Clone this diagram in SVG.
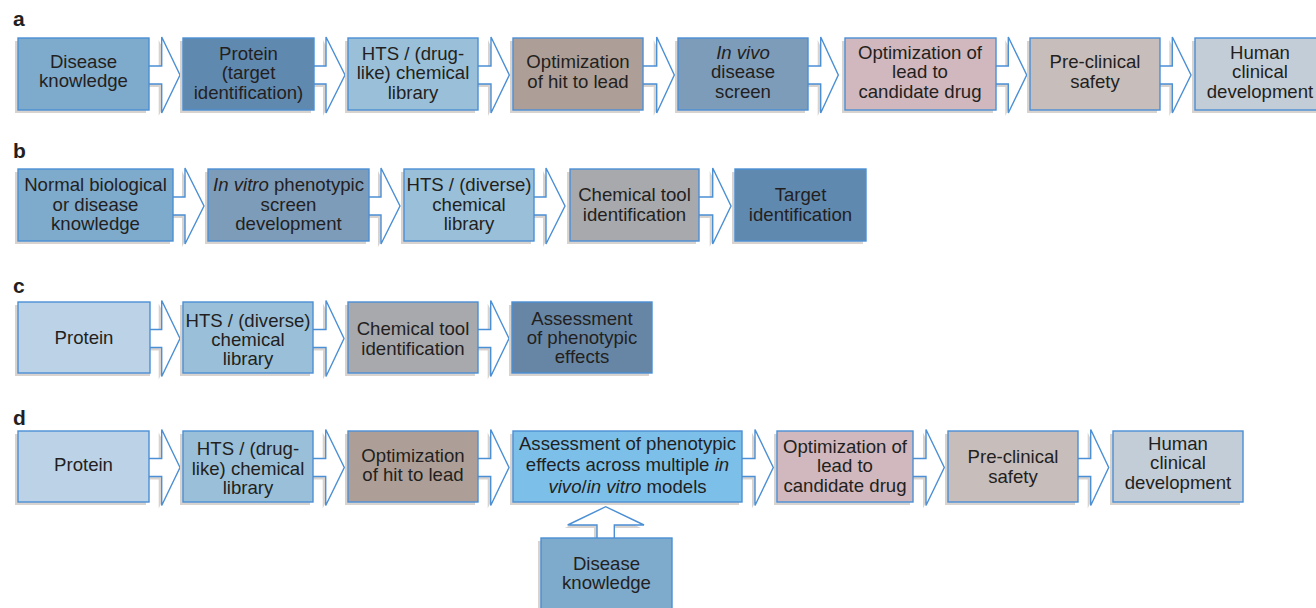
<svg xmlns="http://www.w3.org/2000/svg" width="1316" height="608" viewBox="0 0 1316 608">
<style>
.bx{stroke:#4b8fd5;stroke-width:1.4}
.sh{fill:#d9d3cf}
.ar{fill:#ffffff;stroke:#4b8fd5;stroke-width:1.4;stroke-linejoin:miter}
.as{fill:#d9d3cf}
text{font-family:"Liberation Sans",Arial,Helvetica,sans-serif;font-size:18.6px;fill:#231f20;text-anchor:middle}
text.lbl{font-weight:bold;font-size:21px;text-anchor:start}
.it{font-style:italic}
</style>
<rect width="1316" height="608" fill="#ffffff"/>
<g id="labels">
<text class="lbl" x="13" y="26">a</text>
<text class="lbl" x="13" y="158">b</text>
<text class="lbl" x="13" y="293">c</text>
<text class="lbl" x="13" y="425">d</text>
</g>
<g id="connectors">
<!-- row a, cy 75 -->
<g transform="translate(-3,3)" class="as">
<path d="M149,66 H161.7 V37 L180,75 L161.7,113 V84 H149 Z"/>
<path d="M314,66 H326 V37 L345,75 L326,113 V84 H314 Z"/>
<path d="M478,66 H491 V37 L509.3,75 L491,113 V84 H478 Z"/>
<path d="M643,66 H656.7 V37 L674.3,75 L656.7,113 V84 H643 Z"/>
<path d="M808,66 H820.7 V37 L838.3,75 L820.7,113 V84 H808 Z"/>
<path d="M996,66 H1008.3 V37 L1026.7,75 L1008.3,113 V84 H996 Z"/>
<path d="M1160,66 H1172.3 V37 L1191,75 L1172.3,113 V84 H1160 Z"/>
</g>
<path class="ar" d="M149,66 H161.7 V37 L180,75 L161.7,113 V84 H149"/>
<path class="ar" d="M314,66 H326 V37 L345,75 L326,113 V84 H314"/>
<path class="ar" d="M478,66 H491 V37 L509.3,75 L491,113 V84 H478"/>
<path class="ar" d="M643,66 H656.7 V37 L674.3,75 L656.7,113 V84 H643"/>
<path class="ar" d="M808,66 H820.7 V37 L838.3,75 L820.7,113 V84 H808"/>
<path class="ar" d="M996,66 H1008.3 V37 L1026.7,75 L1008.3,113 V84 H996"/>
<path class="ar" d="M1160,66 H1172.3 V37 L1191,75 L1172.3,113 V84 H1160"/>
<!-- row b, cy 206 -->
<g transform="translate(-3,3)" class="as">
<path d="M173,197 H185 V168 L204,206 L185,244 V215 H173 Z"/>
<path d="M369,197 H381 V168 L400,206 L381,244 V215 H369 Z"/>
<path d="M534,197 H546 V168 L565,206 L546,244 V215 H534 Z"/>
<path d="M699,197 H712.7 V168 L731,206 L712.7,244 V215 H699 Z"/>
</g>
<path class="ar" d="M173,197 H185 V168 L204,206 L185,244 V215 H173"/>
<path class="ar" d="M369,197 H381 V168 L400,206 L381,244 V215 H369"/>
<path class="ar" d="M534,197 H546 V168 L565,206 L546,244 V215 H534"/>
<path class="ar" d="M699,197 H712.7 V168 L731,206 L712.7,244 V215 H699"/>
<!-- row c, cy 338.5 -->
<g transform="translate(-3,3)" class="as">
<path d="M150,329.5 H161.7 V300.5 L180,338.5 L161.7,376.5 V347.5 H150 Z"/>
<path d="M313,329.5 H326 V300.5 L344,338.5 L326,376.5 V347.5 H313 Z"/>
<path d="M478,329.5 H490.7 V300.5 L509,338.5 L490.7,376.5 V347.5 H478 Z"/>
</g>
<path class="ar" d="M150,329.5 H161.7 V300.5 L180,338.5 L161.7,376.5 V347.5 H150"/>
<path class="ar" d="M313,329.5 H326 V300.5 L344,338.5 L326,376.5 V347.5 H313"/>
<path class="ar" d="M478,329.5 H490.7 V300.5 L509,338.5 L490.7,376.5 V347.5 H478"/>
<!-- row d, cy 467.5 -->
<g transform="translate(-3,3)" class="as">
<path d="M149,458.5 H161.7 V429.5 L180,467.5 L161.7,505.5 V476.5 H149 Z"/>
<path d="M313,458.5 H325.7 V429.5 L344.3,467.5 L325.7,505.5 V476.5 H313 Z"/>
<path d="M478,458.5 H490.7 V429.5 L509,467.5 L490.7,505.5 V476.5 H478 Z"/>
<path d="M742,458.5 H755 V429.5 L773.3,467.5 L755,505.5 V476.5 H742 Z"/>
<path d="M913,458.5 H926 V429.5 L944.3,467.5 L926,505.5 V476.5 H913 Z"/>
<path d="M1078,458.5 H1090.7 V429.5 L1108.7,467.5 L1090.7,505.5 V476.5 H1078 Z"/>
<path d="M597,538 V525 H567.7 L605.7,506.7 L644,525 H614.3 V538 Z"/>
</g>
<path class="ar" d="M149,458.5 H161.7 V429.5 L180,467.5 L161.7,505.5 V476.5 H149"/>
<path class="ar" d="M313,458.5 H325.7 V429.5 L344.3,467.5 L325.7,505.5 V476.5 H313"/>
<path class="ar" d="M478,458.5 H490.7 V429.5 L509,467.5 L490.7,505.5 V476.5 H478"/>
<path class="ar" d="M742,458.5 H755 V429.5 L773.3,467.5 L755,505.5 V476.5 H742"/>
<path class="ar" d="M913,458.5 H926 V429.5 L944.3,467.5 L926,505.5 V476.5 H913"/>
<path class="ar" d="M1078,458.5 H1090.7 V429.5 L1108.7,467.5 L1090.7,505.5 V476.5 H1078"/>
<path class="ar" d="M597,538 V525 H567.7 L605.7,506.7 L644,525 H614.3 V538"/>
</g>

<!-- Row a -->
<g id="a1"><rect class="sh" x="15" y="41" width="131" height="72"/><rect class="bx" x="18" y="38" width="131" height="72" fill="#7eaacc"/>
<text x="83.5" y="67.7">Disease</text><text x="83.5" y="87.3">knowledge</text></g>
<g id="a2"><rect class="sh" x="180" y="41" width="131" height="72"/><rect class="bx" x="183" y="38" width="131" height="72" fill="#6089b0"/>
<text x="248.5" y="59.5">Protein</text><text x="248.5" y="79">(target</text><text x="248.5" y="98.5">identification)</text></g>
<g id="a3"><rect class="sh" x="345" y="41" width="130" height="72"/><rect class="bx" x="348" y="38" width="130" height="72" fill="#9abfd8"/>
<text x="413" y="59.5">HTS / (drug-</text><text x="413" y="79">like) chemical</text><text x="413" y="98.5">library</text></g>
<g id="a4"><rect class="sh" x="510" y="41" width="130" height="72"/><rect class="bx" x="513" y="38" width="130" height="72" fill="#ad9f97"/>
<text x="578" y="68">Optimization</text><text x="578" y="87.5">of hit to lead</text></g>
<g id="a5"><rect class="sh" x="675" y="41" width="130" height="72"/><rect class="bx" x="678" y="38" width="130" height="72" fill="#7d9cba"/>
<text x="743" y="58.5" class="it">In vivo</text><text x="743" y="78">disease</text><text x="743" y="97.5">screen</text></g>
<g id="a6"><rect class="sh" x="842" y="41" width="151" height="72"/><rect class="bx" x="845" y="38" width="151" height="72" fill="#d0b8be"/>
<text x="920" y="58.5">Optimization of</text><text x="920" y="78">lead to</text><text x="920" y="97.5">candidate drug</text></g>
<g id="a7"><rect class="sh" x="1027" y="41" width="130" height="72"/><rect class="bx" x="1030" y="38" width="130" height="72" fill="#c7bdbb"/>
<text x="1095" y="68">Pre-clinical</text><text x="1095" y="87.5">safety</text></g>
<g id="a8"><rect class="sh" x="1192" y="41" width="130" height="72"/><rect class="bx" x="1195" y="38" width="130" height="72" fill="#c3cdd8"/>
<text x="1260" y="58.5">Human</text><text x="1260" y="78">clinical</text><text x="1260" y="97.5">development</text></g>

<!-- Row b -->
<g id="b1"><rect class="sh" x="15" y="172" width="155" height="72"/><rect class="bx" x="18" y="169" width="155" height="72" fill="#7eaacc"/>
<text x="95.5" y="191">Normal biological</text><text x="95.5" y="210.7">or disease</text><text x="95.5" y="230.2">knowledge</text></g>
<g id="b2"><rect class="sh" x="205" y="172" width="161" height="72"/><rect class="bx" x="208" y="169" width="161" height="72" fill="#7d9cba"/>
<text x="288.5" y="191"><tspan class="it">In vitro</tspan> phenotypic</text><text x="288.5" y="210.7">screen</text><text x="288.5" y="230.2">development</text></g>
<g id="b3"><rect class="sh" x="401" y="172" width="130" height="72"/><rect class="bx" x="404" y="169" width="130" height="72" fill="#9abfd8"/>
<text x="469" y="191">HTS / (diverse)</text><text x="469" y="210.7">chemical</text><text x="469" y="230.2">library</text></g>
<g id="b4"><rect class="sh" x="567" y="172" width="129" height="72"/><rect class="bx" x="570" y="169" width="129" height="72" fill="#a8a9ad"/>
<text x="634.5" y="200.7">Chemical tool</text><text x="634.5" y="220.5">identification</text></g>
<g id="b5"><rect class="sh" x="732" y="172" width="131" height="72"/><rect class="bx" x="735" y="169" width="131" height="72" fill="#6089b0"/>
<text x="800.5" y="200.7">Target</text><text x="800.5" y="220.5">identification</text></g>

<!-- Row c -->
<g id="c1"><rect class="sh" x="15" y="305" width="135" height="71"/><rect class="bx" x="18" y="302" width="132" height="71" fill="#bcd2e6"/>
<text x="84" y="343.5">Protein</text></g>
<g id="c2"><rect class="sh" x="180" y="305" width="130" height="71"/><rect class="bx" x="183" y="302" width="130" height="71" fill="#9abfd8"/>
<text x="248" y="326.5">HTS / (diverse)</text><text x="248" y="345.5">chemical</text><text x="248" y="364.5">library</text></g>
<g id="c3"><rect class="sh" x="345" y="305" width="130" height="71"/><rect class="bx" x="348" y="302" width="130" height="71" fill="#a8a9ad"/>
<text x="413" y="335">Chemical tool</text><text x="413" y="354.5">identification</text></g>
<g id="c4"><rect class="sh" x="509" y="305" width="140" height="71"/><rect class="bx" x="512" y="302" width="140" height="71" fill="#6786a5"/>
<text x="582" y="325">Assessment</text><text x="582" y="344">of phenotypic</text><text x="582" y="363">effects</text></g>

<!-- Row d -->
<g id="d1"><rect class="sh" x="15" y="434" width="131" height="71"/><rect class="bx" x="18" y="431" width="131" height="71" fill="#bcd2e6"/>
<text x="83.5" y="471">Protein</text></g>
<g id="d2"><rect class="sh" x="180" y="434" width="130" height="71"/><rect class="bx" x="183" y="431" width="130" height="71" fill="#9abfd8"/>
<text x="248" y="455">HTS / (drug-</text><text x="248" y="474.5">like) chemical</text><text x="248" y="494">library</text></g>
<g id="d3"><rect class="sh" x="345" y="434" width="130" height="71"/><rect class="bx" x="348" y="431" width="130" height="71" fill="#ad9f97"/>
<text x="413" y="461.5">Optimization</text><text x="413" y="481">of hit to lead</text></g>
<g id="d4"><rect class="sh" x="510" y="434" width="229" height="71"/><rect class="bx" x="513" y="431" width="229" height="71" fill="#7cc0ea"/>
<text x="627.5" y="449.5">Assessment of phenotypic</text><text x="627.5" y="471">effects across multiple <tspan class="it">in</tspan></text><text x="627.5" y="492.5"><tspan class="it">vivo</tspan>/<tspan class="it">in vitro</tspan> models</text></g>
<g id="d5"><rect class="sh" x="774" y="434" width="136" height="71"/><rect class="bx" x="777" y="431" width="136" height="71" fill="#d0b8be"/>
<text x="845" y="452.5">Optimization of</text><text x="845" y="472">lead to</text><text x="845" y="491.5">candidate drug</text></g>
<g id="d6"><rect class="sh" x="945" y="434" width="130" height="71"/><rect class="bx" x="948" y="431" width="130" height="71" fill="#c7bdbb"/>
<text x="1013" y="463.3">Pre-clinical</text><text x="1013" y="482.5">safety</text></g>
<g id="d7"><rect class="sh" x="1110" y="434" width="130" height="71"/><rect class="bx" x="1113" y="431" width="130" height="71" fill="#c3cdd8"/>
<text x="1178" y="450">Human</text><text x="1178" y="469.3">clinical</text><text x="1178" y="488.6">development</text></g>
<g id="d8"><rect class="sh" x="538" y="541" width="131" height="72"/><rect class="bx" x="541" y="538" width="131" height="72" fill="#7eaacc"/>
<text x="606.5" y="570">Disease</text><text x="606.5" y="589">knowledge</text></g>
</svg>
